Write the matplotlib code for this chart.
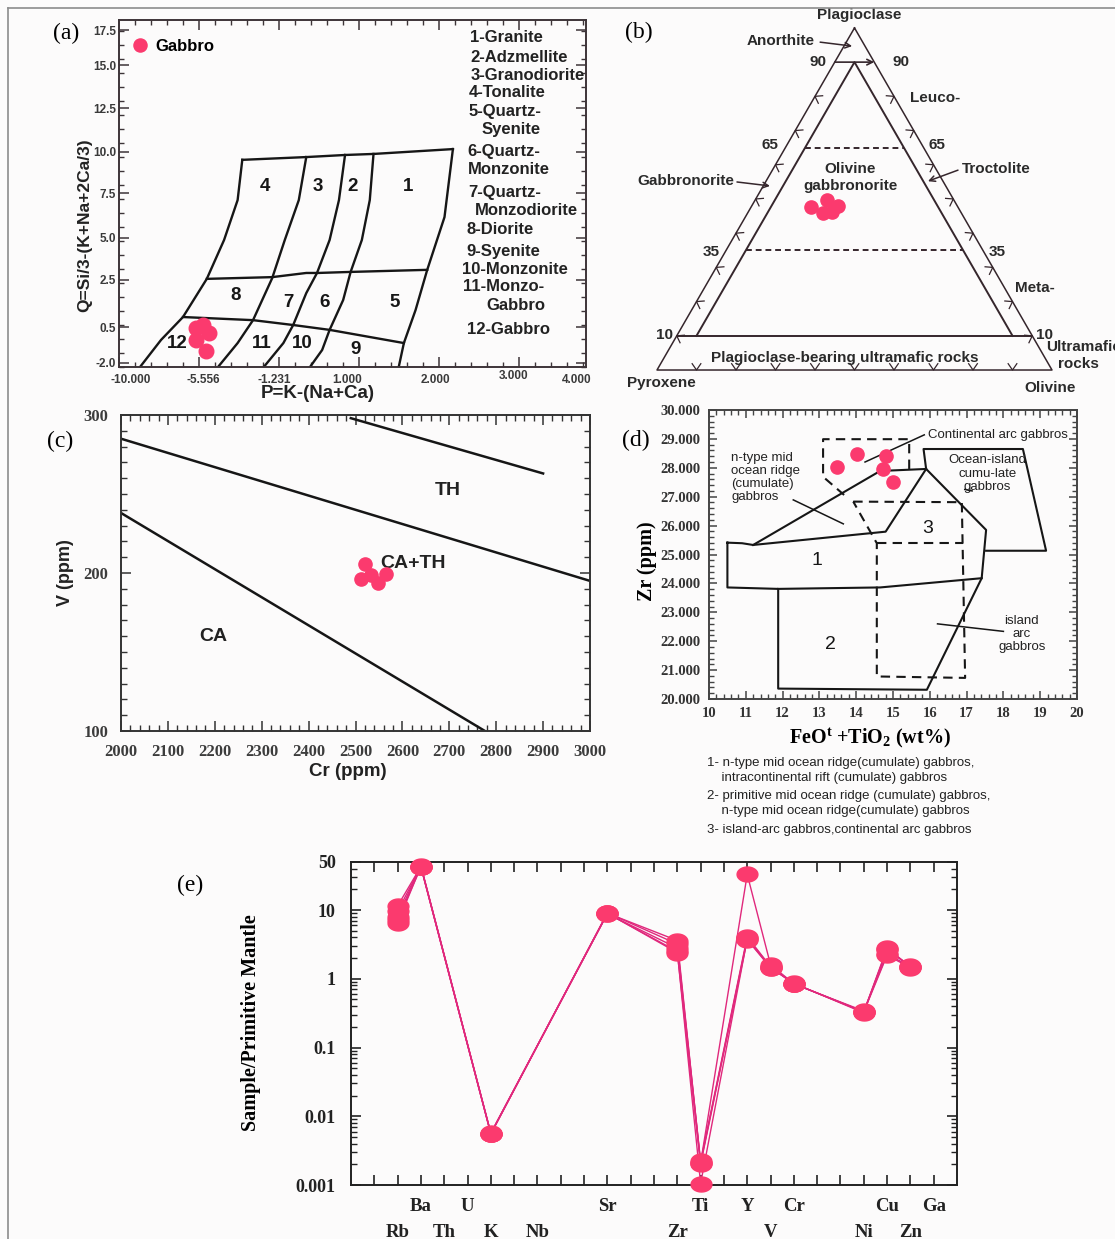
"""Five-panel gabbro geochemistry figure: (a) P-Q, (b) Plag-Px-Ol, (c) Cr-V,
(d) FeOt+TiO2 vs Zr, (e) primitive-mantle normalised spider diagram."""

import matplotlib
matplotlib.use('Agg')
import matplotlib.pyplot as plt
import numpy as np
from matplotlib.lines import Line2D
from matplotlib.path import Path
from matplotlib.ticker import FixedLocator, MultipleLocator, LogLocator, NullFormatter

plt.rcParams['font.family'] = 'Liberation Sans'
plt.rcParams['mathtext.fontset'] = 'custom'
plt.rcParams['mathtext.rm'] = 'Liberation Serif:bold'
plt.rcParams['mathtext.default'] = 'rm'

W, H = 1115, 1239
BG = '#fcfbfb'
INK = '#161616'
DOT = '#fb3a6e'
SPIDER = '#e0287c'
SERIF = 'Liberation Serif'

# ---------------- (a) P-Q diagram, frame units 0-100 (labels are the scan's)
A_XTICK_POS = [2.4, 18.0, 33.2, 48.8, 67.7, 84.4, 98.1]
A_XTICK_LABELS = ['-10.000', '-5.556', '-1.231', '1.000', '2.000', '3.000', '4.000']
A_XTICK_LIFT = [0, 0, 0, 0, 0, 1, 0]
A_YTICK_POS = [97.1, 87.0, 74.6, 62.0, 50.1, 37.2, 25.1, 11.5, 1.2]
A_YTICK_LABELS = ['17.5', '15.0', '12.5', '10.0', '7.5', '5.0', '2.5', '0.5', '-2.0']
A_FIELD_LINES = [
    ([26.4, 40.1, 48.4, 54.5, 71.5], [59.7, 60.5, 61.1, 61.4, 62.8]),
    ([26.4, 25.4, 22.5, 18.8, 13.7, 9.0, 4.5], [59.7, 48.1, 36.6, 25.4, 14.4, 7.8, 0]),
    ([40.1, 38.5, 35.5, 32.8, 28.7, 25.4, 21.2], [60.5, 48.1, 36.6, 25.6, 13.5, 6.9, 0]),
    ([48.4, 47.1, 45.1, 42.4, 40.1, 37.3, 35.2, 31.0], [61.1, 48.1, 36.6, 27.1, 21.3, 12.1, 6.9, 0]),
    ([54.5, 53.7, 52.0, 49.6, 48.0, 45.1, 43.5, 40.9], [61.4, 48.1, 36.6, 27.4, 19.3, 10.7, 4.9, 0]),
    ([71.5, 69.7, 66.0, 63.5, 61.0, 59.9], [62.8, 43.2, 28.0, 16.4, 6.9, 0]),
    ([18.8, 32.8, 40.1, 42.6, 49.6, 66.0], [25.4, 25.9, 27.1, 27.1, 27.4, 28.0]),
    ([13.7, 28.7, 37.3, 45.1, 61.0], [14.4, 13.5, 12.1, 10.7, 6.9]),
]
A_FIELD_NUM = ['4', '3', '2', '1', '8', '7', '6', '5', '12', '11', '10', '9']
A_FIELD_X = [31.3, 42.6, 50.1, 61.9, 25.0, 36.2, 44.0, 59.0, 12.5, 30.6, 39.3, 50.7]
A_FIELD_Y = [51.9, 51.9, 51.9, 51.9, 20.7, 18.7, 18.7, 18.7, 6.8, 6.9, 6.9, 4.9]
A_NAMES = ['1-Granite', '2-Adzmellite', '3-Granodiorite', '4-Tonalite', '5-Quartz-',
           'Syenite', '6-Quartz-', 'Monzonite', '7-Quartz-', 'Monzodiorite', '8-Diorite',
           '9-Syenite', '10-Monzonite', '11-Monzo-', 'Gabbro', '12-Gabbro']
A_NAME_X = [75.2, 75.2, 75.4, 74.9, 74.9, 77.7, 74.7, 74.7, 74.7, 76.2, 74.5,
            74.3, 73.4, 73.7, 78.6, 74.5]
A_NAME_Y = [95.1, 89.3, 84.1, 79.0, 73.5, 68.3, 62.2, 56.8, 50.4, 45.0, 39.5,
            33.4, 28.2, 23.1, 17.6, 10.7]
A_P = [16.4, 18.0, 19.2, 16.4, 18.6]
A_Q = [11.2, 12.1, 9.7, 7.8, 4.7]

# ---------------- (b) Plag-Px-Ol ternary (percent)
B_PLAG = [47.7, 49.7, 48.0, 45.9, 46.2]
B_PX = [37.2, 32.1, 30.2, 35.0, 32.6]
B_OL = [15.1, 18.2, 21.8, 19.1, 21.2]
B_OUTER = ([100, 0, 0, 100], [0, 100, 0, 0], [0, 0, 100, 0])
B_INNER = ([10, 90, 10], [85, 5, 5], [5, 5, 85])
B_TEN = ([10, 10], [90, 0], [0, 90])
B_DASHED = [([65, 65], [30, 5], [5, 30]), ([35, 35], [60, 5], [5, 60])]
B_SIDE_TICKS = [10, 20, 30, 40, 50, 60, 70, 80]
B_BASE_TICKS = [10, 20, 30, 40, 50, 60, 70, 80, 90]

# ---------------- (c) Cr vs V
C_CR = [2521, 2534, 2564, 2511, 2547]
C_V = [206, 199, 199.5, 196, 193.5]
C_LINES = [([2000, 3000], [285, 195]), ([2000, 2776], [238, 100]), ([2490, 2900], [298, 263])]
C_FIELDS = ['TH', 'CA+TH', 'CA']
C_FIELD_CR = [2697, 2623, 2197]
C_FIELD_V = [252.5, 206.3, 160]

# ---------------- (d) FeOt+TiO2 vs Zr
D_FEOTI = [13.49, 14.01, 14.80, 14.74, 15.01]
D_ZR = [28.02, 28.48, 28.42, 27.95, 27.50]
D_SOLID = [
    ([10.5, 10.9, 11.2, 14.8, 15.9, 17.53, 17.41, 15.92, 11.88, 11.88, 10.5, 10.5],
     [25.41, 25.39, 25.33, 25.79, 27.96, 25.85, 24.18, 20.32, 20.36, 23.81, 23.86, 25.41]),
    ([11.88, 14.65, 17.41], [23.81, 23.86, 24.18]),
    ([11.2, 14.65, 15.9], [25.33, 27.89, 27.96]),
    ([15.9, 15.83, 18.53, 19.16, 17.53], [27.96, 28.65, 28.65, 25.13, 25.13]),
]
D_DASHED = [
    ([13.92, 16.87, 16.96, 14.56, 14.56, 13.92], [26.83, 26.81, 20.73, 20.78, 25.39, 26.83]),
    ([14.56, 16.9], [25.39, 25.39]),
    ([15.44, 15.44, 13.10, 13.10, 13.69], [27.96, 28.99, 28.99, 27.69, 27.04]),
]
D_LEADERS = [([14.24, 15.85], [28.20, 29.14]), ([12.29, 13.65], [26.89, 26.06]),
             ([16.21, 18.0], [22.60, 22.34]), ([16.95, 17.15], [27.25, 27.2])]
D_REGION_NUM = ['1', '2', '3']
D_REGION_X = [12.92, 13.31, 15.94]
D_REGION_Y = [24.78, 21.90, 25.91]
D_CAPTION = ['1- n-type mid ocean ridge(cumulate) gabbros,',
             '    intracontinental rift (cumulate) gabbros',
             '2- primitive mid ocean ridge (cumulate) gabbros,',
             '    n-type mid ocean ridge(cumulate) gabbros',
             '3- island-arc gabbros,continental arc gabbros']
D_CAPTION_Y = [763, 778, 796, 811, 830]

# ---------------- (e) spider diagram
E_CATS = ['', 'Rb', 'Ba', 'Th', 'U', 'K', '', 'Nb', '', '', 'Sr', '', '', 'Zr', 'Ti',
          '', 'Y', 'V', 'Cr', '', '', 'Ni', 'Cu', 'Zn', 'Ga']
E_ELEMENTS = ['Rb', 'Ba', 'K', 'Sr', 'Zr', 'Ti', 'Y', 'V', 'Cr', 'Ni', 'Cu', 'Zn']
E_VALUES = [
    [11.5, 43, 0.0056, 9.0, 3.6, 0.0021, 33, 1.6, 0.85, 0.33, 2.8, 1.5],
    [9.6, 43, 0.0056, 9.1, 3.2, 0.0022, 4.1, 1.5, 0.85, 0.33, 2.6, 1.55],
    [8.0, 44, 0.0057, 8.8, 2.8, 0.0021, 3.9, 1.5, 0.84, 0.34, 2.3, 1.5],
    [6.5, 43, 0.0056, 8.9, 2.5, 0.00105, 3.8, 1.45, 0.85, 0.33, 2.2, 1.45],
    [7.2, 42, 0.0055, 9.0, 2.4, 0.0020, 3.7, 1.45, 0.86, 0.32, 2.7, 1.5],
]
E_YTICKS = [0.001, 0.01, 0.1, 1, 10, 50]
E_YTICK_LABELS = ['0.001', '0.01', '0.1', '1', '10', '50']

fig = plt.figure(figsize=(W / 100, H / 100), dpi=100, facecolor=BG)


def px_axes(left, top, right, bottom):
    ax = fig.add_axes([left / W, 1 - bottom / H, (right - left) / W, (bottom - top) / H])
    ax.set_facecolor('none')
    return ax


def px_text(x, y, s, **kw):
    kw.setdefault('ha', 'center')
    kw.setdefault('va', 'center')
    fig.text(x / W, 1 - y / H, s, **kw)


def style_frame(ax, color, lw=1.3):
    for sp in ax.spines.values():
        sp.set_color(color)
        sp.set_linewidth(lw)


# outer border of the composite figure
fig.add_artist(Line2D([8 / W, 8 / W], [0, 1 - 8 / H], color='#8c8c8c', lw=1.2))
fig.add_artist(Line2D([8 / W, 1], [1 - 8 / H, 1 - 8 / H], color='#8c8c8c', lw=1.2))

# ================= (a)
ax = px_axes(119, 20, 586, 367)
ax.set_xlim(0, 100)
ax.set_ylim(0, 100)
for xs, ys in A_FIELD_LINES:
    ax.plot(xs, ys, color=INK, lw=1.7, solid_joinstyle='round')
ax.plot(A_P, A_Q, 'o', ms=10.5, color=DOT, mec=DOT, label='Gabbro', zorder=4)
ax.legend(loc='upper left', bbox_to_anchor=(0.027, 0.946), frameon=False, borderpad=0,
          borderaxespad=0, handlelength=1.0, handletextpad=0.4, markerscale=0.9,
          prop={'weight': 'bold', 'size': 12})
for s, x, y in zip(A_FIELD_NUM, A_FIELD_X, A_FIELD_Y):
    ax.text(x, y, s, ha='center', va='center', fontsize=13.5, fontweight='bold', color=INK)
for s, x, y in zip(A_NAMES, A_NAME_X, A_NAME_Y):
    ax.text(x, y, s, ha='left', va='center', fontsize=12, fontweight='bold', color='#222')
ax.xaxis.set_major_locator(MultipleLocator(17.13))
ax.xaxis.set_minor_locator(MultipleLocator(3.426))
ax.xaxis.set_major_formatter(NullFormatter())
ax.yaxis.set_major_locator(FixedLocator(A_YTICK_POS))
ax.yaxis.set_minor_locator(MultipleLocator(4.03))
ax.set_yticklabels(A_YTICK_LABELS)
ax.tick_params(which='both', direction='in', top=True, right=True, colors='#3d3438')
ax.tick_params(which='major', length=7, width=1.1, labelsize=8.5, pad=2, labelcolor='#3a3a3a')
ax.tick_params(which='minor', length=3.5, width=1.0)
for lab in ax.get_yticklabels():
    lab.set_fontweight('bold')
for x, s, lift in zip(A_XTICK_POS, A_XTICK_LABELS, A_XTICK_LIFT):
    ax.text(x, -0.037 + 0.012 * lift, s, transform=ax.get_xaxis_transform(), ha='center',
            va='center', fontsize=8.5, fontweight='bold', color='#3a3a3a')
style_frame(ax, '#3d3438', 1.4)
px_text(85, 225, 'Q=Si/3-(K+Na+2Ca/3)', rotation=90, fontsize=12.5, fontweight='bold', color='#222')
px_text(318, 394, 'P=K-(Na+Ca)', fontsize=13.5, fontweight='bold', color='#222')
px_text(66, 33, '(a)', family=SERIF, fontsize=17)

# ================= (b)
ax = px_axes(600, 0, 1115, 400)
ax.set_xlim(-0.1443, 1.1595)
ax.set_ylim(-0.0759, 0.9367)
ax.axis('off')
TRI = '#35262c'


def tern(plag, px, ol):
    plag, px, ol = (np.asarray(v, float) for v in (plag, px, ol))
    s = plag + px + ol
    return (ol + plag / 2) / s, plag / s * np.sqrt(3) / 2


ax.plot(*tern(*B_OUTER), color=TRI, lw=1.1)
ax.plot(*tern(*B_INNER), color=TRI, lw=1.4)
ax.plot(*tern(*B_TEN), color=TRI, lw=1.4)
for line in B_DASHED:
    ax.plot(*tern(*line), color=TRI, lw=1.4, dashes=(3, 2))
x0, y0 = tern(90, 10, 0)
x1, y1 = tern(90, 0, 10)
ax.annotate('', xy=(x1, y1), xytext=(x0, y0),
            arrowprops=dict(arrowstyle='->', color=TRI, lw=1.2, shrinkA=0, shrinkB=0))


def chevron(x, y, n, t, a=0.016, b=0.011):
    xs = [x - a * n[0] + b * t[0], x, x - a * n[0] - b * t[0]]
    ys = [y - a * n[1] + b * t[1], y, y - a * n[1] - b * t[1]]
    ax.plot(xs, ys, color=TRI, lw=0.9)


r3 = np.sqrt(3) / 2
for p in B_SIDE_TICKS:
    x, y = tern(p, 100 - p, 0)
    chevron(x, y, (-r3, 0.5), (0.5, r3))
    x, y = tern(p, 0, 100 - p)
    chevron(x, y, (r3, 0.5), (-0.5, r3))
for o in B_BASE_TICKS:
    x, y = tern(0, 100 - o, o)
    chevron(x, y, (0, -1), (1, 0))
ax.plot(*tern(B_PLAG, B_PX, B_OL), 'o', ms=9.5, color=DOT, mec=DOT, zorder=4)

bkw = dict(fontsize=11, fontweight='bold', color='#2a2a2a', va='center')
ax.text(0.511, 0.899, 'Plagioclase', ha='center', **bkw)
ax.text(0.40, 0.833, 'Anorthite', ha='right', **bkw)
ax.text(0.408, 0.780, '90', ha='center', **bkw)
ax.text(0.618, 0.780, '90', ha='center', **bkw)
ax.text(0.641, 0.689, 'Leuco-', ha='left', **bkw)
ax.text(0.286, 0.570, '65', ha='center', **bkw)
ax.text(0.709, 0.570, '65', ha='center', **bkw)
ax.text(0.772, 0.509, 'Troctolite', ha='left', **bkw)
ax.text(0.195, 0.478, 'Gabbronorite', ha='right', **bkw)
ax.text(0.489, 0.509, 'Olivine', ha='center', **bkw)
ax.text(0.489, 0.466, 'gabbronorite', ha='center', **bkw)
ax.text(0.137, 0.299, '35', ha='center', **bkw)
ax.text(0.861, 0.299, '35', ha='center', **bkw)
ax.text(0.906, 0.208, 'Meta-', ha='left', **bkw)
ax.text(0.018, 0.089, '10', ha='center', **bkw)
ax.text(0.980, 0.089, '10', ha='center', **bkw)
ax.text(0.985, 0.058, 'Ultramafic', ha='left', **bkw)
ax.text(1.015, 0.015, 'rocks', ha='left', **bkw)
ax.text(0.476, 0.030, 'Plagioclase-bearing ultramafic rocks', ha='center', **bkw)
ax.text(0.010, -0.033, 'Pyroxene', ha='center', **bkw)
ax.text(0.995, -0.046, 'Olivine', ha='center', **bkw)
akw = dict(arrowstyle='->', color=TRI, lw=1.1, shrinkA=0, shrinkB=0)
ax.annotate('', xy=(0.494, 0.820), xytext=(0.413, 0.830), arrowprops=akw)
ax.annotate('', xy=(0.686, 0.478), xytext=(0.762, 0.506), arrowprops=akw)
ax.annotate('', xy=(0.286, 0.466), xytext=(0.2025, 0.476), arrowprops=akw)
px_text(639, 32, '(b)', family=SERIF, fontsize=17)

# ================= (c)
ax = px_axes(121, 415, 590, 731)
ax.set_xlim(2000, 3000)
ax.set_ylim(100, 300)
for xs, ys in C_LINES:
    ax.plot(xs, ys, color=INK, lw=1.8)
ax.plot(C_CR, C_V, 'o', ms=9.5, color=DOT, mec=DOT, zorder=4)
for s, x, y in zip(C_FIELDS, C_FIELD_CR, C_FIELD_V):
    ax.text(x, y, s, ha='center', va='center', fontsize=14, fontweight='bold', color='#222')
ax.xaxis.set_major_locator(MultipleLocator(100))
ax.xaxis.set_minor_locator(MultipleLocator(20))
ax.yaxis.set_major_locator(MultipleLocator(100))
ax.yaxis.set_minor_locator(MultipleLocator(10))
ax.tick_params(which='both', direction='in', top=True, right=True, colors='#333')
ax.tick_params(which='major', length=7, width=1.1, labelsize=12, pad=9, labelcolor='#3c3c3c')
ax.tick_params(which='minor', length=4, width=1.0)
for lab in ax.get_xticklabels() + ax.get_yticklabels():
    lab.set_fontfamily(SERIF)
    lab.set_fontweight('bold')
style_frame(ax, '#333', 1.4)
px_text(66, 573, 'V (ppm)', rotation=90, fontsize=13, fontweight='bold', color='#222')
px_text(348, 771, 'Cr (ppm)', fontsize=13.5, fontweight='bold', color='#222')
px_text(60, 441, '(c)', family=SERIF, fontsize=17)

# ================= (d)
ax = px_axes(709, 410, 1077, 699)
ax.set_xlim(10, 20)
ax.set_ylim(20, 30)
for xs, ys in D_SOLID:
    ax.plot(xs, ys, color=INK, lw=1.5)
for xs, ys in D_DASHED:
    ax.plot(xs, ys, color=INK, lw=1.5, dashes=(4.5, 3))
for xs, ys in D_LEADERS:
    ax.plot(xs, ys, color=INK, lw=1.1)
ax.plot(D_FEOTI, D_ZR, 'o', ms=9.5, color=DOT, mec=DOT, zorder=4)
for s, x, y in zip(D_REGION_NUM, D_REGION_X, D_REGION_Y):
    ax.text(x, y, s, ha='center', va='center', fontsize=14, color=INK)
dkw = dict(fontsize=9.5, color='#222', linespacing=1.12)
ax.text(15.95, 29.14, 'Continental arc gabbros', ha='left', va='center', **dkw)
ax.text(10.61, 28.55, 'n-type mid\nocean ridge\n(cumulate)\ngabbros', ha='left', va='top', **dkw)
ax.text(17.56, 27.8, 'Ocean-island\ncumu-late\ngabbros', ha='center', va='center', **dkw)
ax.text(18.5, 22.25, 'island\narc\ngabbros', ha='center', va='center', **dkw)
ax.xaxis.set_major_locator(MultipleLocator(1))
ax.xaxis.set_minor_locator(MultipleLocator(0.2))
ax.yaxis.set_major_locator(MultipleLocator(1))
ax.yaxis.set_minor_locator(MultipleLocator(0.2))
ax.yaxis.set_major_formatter(lambda v, pos: f'{v:.3f}')
ax.tick_params(which='both', direction='in', top=True, right=True, colors='#444')
ax.tick_params(which='major', length=6, width=1.1, labelsize=10.5, pad=6, labelcolor='#333')
ax.tick_params(which='minor', length=3.5, width=1.0)
for lab in ax.get_xticklabels() + ax.get_yticklabels():
    lab.set_fontfamily(SERIF)
    lab.set_fontweight('bold')
style_frame(ax, '#444', 1.4)
px_text(647, 561, 'Zr (ppm)', rotation=90, family=SERIF, fontsize=14.5, fontweight='bold')
px_text(870, 738, r'FeO$^{t}$ +TiO$_{2}$ (wt%)', family=SERIF, fontsize=14.5, fontweight='bold')
px_text(636, 440, '(d)', family=SERIF, fontsize=17)
for s, y in zip(D_CAPTION, D_CAPTION_Y):
    px_text(707, y, s, ha='left', fontsize=9.5, color='#222')

# ================= (e)
ax = px_axes(351, 862, 957, 1185)
ax.set_xlim(-1, 25)
ax.set_yscale('log')
ax.set_ylim(0.001, 50)
t = np.linspace(0, 2 * np.pi, 41)
ELLIPSE = Path(np.column_stack([np.cos(t), 0.72 * np.sin(t)]), closed=True)
e_idx = [E_CATS.index(el) for el in E_ELEMENTS]
for row in E_VALUES:
    ax.plot(e_idx, row, '-', color=SPIDER, lw=1.0, zorder=2, clip_on=False)
for row in E_VALUES:
    ax.plot(e_idx, row, ls='none', marker=ELLIPSE, ms=15, mfc=DOT, mec=DOT,
            zorder=3, clip_on=False)
ax.xaxis.set_major_locator(FixedLocator(range(len(E_CATS))))
ax.xaxis.set_major_formatter(NullFormatter())
ax.yaxis.set_major_locator(FixedLocator(E_YTICKS))
ax.yaxis.set_minor_locator(LogLocator(base=10, subs=range(2, 10)))
ax.yaxis.set_minor_formatter(NullFormatter())
ax.set_yticklabels(E_YTICK_LABELS)
ax.tick_params(which='both', direction='in', top=True, right=True, colors='#222')
ax.tick_params(which='major', length=7, width=1.2, labelsize=13, pad=11)
ax.tick_params(which='minor', length=4, width=1.0)
for lab in ax.get_yticklabels():
    lab.set_fontfamily(SERIF)
    lab.set_fontweight('bold')
for i, name in enumerate(E_CATS):
    if not name:
        continue
    y = -0.066 if i % 2 == 0 else -0.146
    ax.text(i, y, name, transform=ax.get_xaxis_transform(), ha='center', va='center',
            family=SERIF, fontsize=13.5, fontweight='bold', color='#222')
style_frame(ax, '#222', 1.4)
px_text(251, 1023, 'Sample/Primitive Mantle', rotation=90, family=SERIF, fontsize=14.5,
        fontweight='bold')
px_text(190, 885, '(e)', family=SERIF, fontsize=17)

fig.savefig('out.png', dpi=100, facecolor=BG)
